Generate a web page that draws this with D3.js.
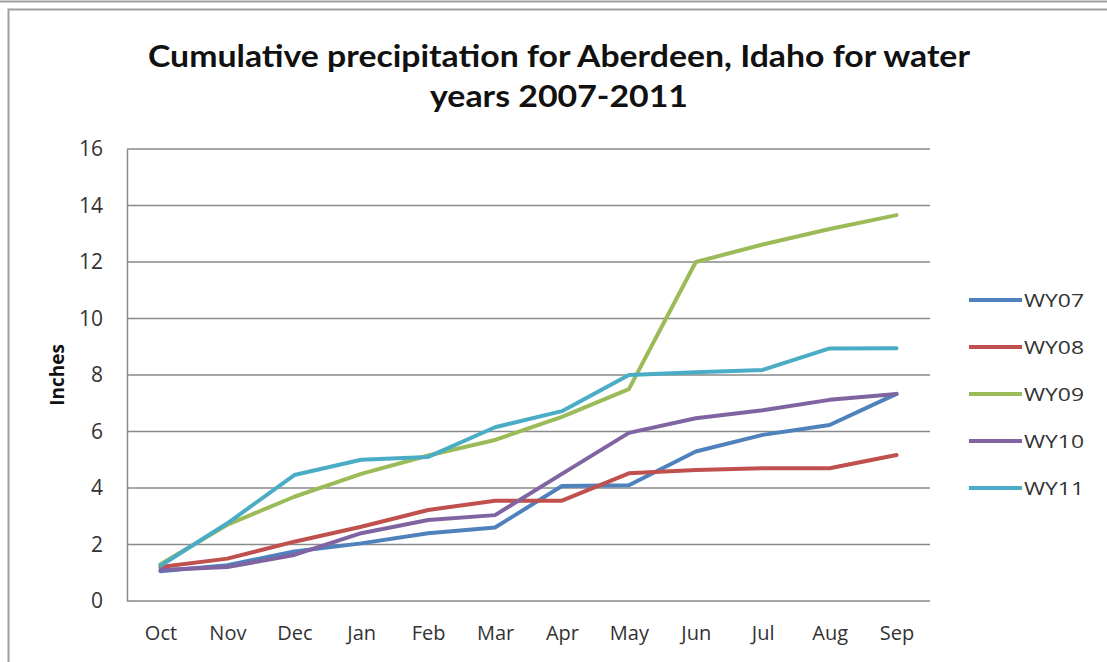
<!DOCTYPE html>
<html>
<head>
<meta charset="utf-8">
<script src="https://cdn.jsdelivr.net/npm/d3@7"></script>
<style>
  html, body { margin: 0; padding: 0; background: #fff; }
  svg { display: block; }
</style>
</head>
<body>
<svg id="chart" width="1107" height="662"></svg>
<script>
// Month categories of the water year (Oct–Sep)
const months = ["Oct", "Nov", "Dec", "Jan", "Feb", "Mar", "Apr", "May", "Jun", "Jul", "Aug", "Sep"];

// Cumulative precipitation (inches) per water year
const wy07 = [1.05, 1.27, 1.75, 2.04, 2.4, 2.6, 4.07, 4.1, 5.29, 5.88, 6.23, 7.33];
const wy08 = [1.2, 1.5, 2.1, 2.63, 3.22, 3.55, 3.55, 4.52, 4.64, 4.7, 4.7, 5.17];
const wy09 = [1.3, 2.7, 3.69, 4.5, 5.15, 5.7, 6.52, 7.5, 12.0, 12.62, 13.17, 13.66];
const wy10 = [1.1, 1.2, 1.63, 2.4, 2.87, 3.04, 4.5, 5.95, 6.47, 6.75, 7.12, 7.33];
const wy11 = [1.25, 2.75, 4.46, 5.0, 5.1, 6.15, 6.72, 8.0, 8.1, 8.18, 8.94, 8.95];

const seriesNames = ["WY07", "WY08", "WY09", "WY10", "WY11"];
const seriesValues = [wy07, wy08, wy09, wy10, wy11];
const seriesColors = ["#4F81BD", "#C0504D", "#9BBB59", "#8064A2", "#4BACC6"];

const yTicks = [0, 2, 4, 6, 8, 10, 12, 14, 16];

const svg = d3.select("#chart");
const W = 1107, H = 662;

// Outer frame lines
svg.append("line").attr("x1", 0).attr("x2", W).attr("y1", 1.5).attr("y2", 1.5)
  .attr("stroke", "#a0a0a0").attr("stroke-width", 2);
svg.append("rect").attr("x", 8.5).attr("y", 9.5).attr("width", W + 20).attr("height", H + 20)
  .attr("fill", "#fff").attr("stroke", "#a0a0a0").attr("stroke-width", 2);

const plot = { left: 127, right: 930, top: 149, bottom: 601 };

const x = d3.scalePoint().domain(months).range([plot.left, plot.right]).padding(0.5);
const y = d3.scaleLinear().domain([0, 16]).range([plot.bottom, plot.top]);

const font = "'Open Sans', 'DejaVu Sans', sans-serif";

// Horizontal gridlines
svg.append("g").selectAll("line").data(yTicks.filter(d => d > 0)).join("line")
  .attr("x1", plot.left).attr("x2", plot.right)
  .attr("y1", d => y(d)).attr("y2", d => y(d))
  .attr("stroke", "#8a8a8a").attr("stroke-width", 1.5);

// Y axis
const yAxis = svg.append("g").attr("transform", `translate(${plot.left},0)`)
  .call(d3.axisLeft(y).tickValues(yTicks).tickSize(0).tickPadding(24));
yAxis.select(".domain").attr("stroke", "#8a8a8a").attr("stroke-width", 1.5);
yAxis.selectAll("text").attr("font-family", font).attr("font-size", 21).attr("fill", "#333");

// X axis
const xAxis = svg.append("g").attr("transform", `translate(0,${plot.bottom})`)
  .call(d3.axisBottom(x).tickSize(0).tickPadding(25));
xAxis.select(".domain").attr("stroke", "#8a8a8a").attr("stroke-width", 1.5)
  .attr("d", `M${plot.left},0H${plot.right}`);
xAxis.selectAll("text").attr("font-family", font).attr("font-size", 20).attr("fill", "#333");

// Y axis title
svg.append("text")
  .attr("transform", `translate(64,${(plot.top + plot.bottom) / 2}) rotate(-90)`)
  .attr("text-anchor", "middle")
  .attr("font-family", font).attr("font-weight", "bold").attr("font-size", 19)
  .attr("fill", "#111").text("Inches");

// Chart title (two lines)
const titleFont = "Lato, 'Open Sans', sans-serif";
svg.append("text").attr("x", 559).attr("y", 67).attr("text-anchor", "middle")
  .attr("font-family", titleFont).attr("font-weight", "bold").attr("font-size", 30)
  .attr("fill", "#111").attr("textLength", 822).attr("lengthAdjust", "spacingAndGlyphs")
  .text("Cumulative precipitation for Aberdeen, Idaho for water");
svg.append("text").attr("x", 559).attr("y", 107).attr("text-anchor", "middle")
  .attr("font-family", titleFont).attr("font-weight", "bold").attr("font-size", 30)
  .attr("fill", "#111").attr("textLength", 258).attr("lengthAdjust", "spacingAndGlyphs")
  .text("years 2007-2011");

// Series lines
const line = d3.line().x((d, i) => x(months[i])).y(d => y(d));
svg.append("g").selectAll("path").data(seriesValues).join("path")
  .attr("d", d => line(d))
  .attr("fill", "none")
  .attr("stroke", (d, i) => seriesColors[i])
  .attr("stroke-width", 4)
  .attr("stroke-linejoin", "round")
  .attr("stroke-linecap", "round");

// Legend
const legend = svg.append("g");
const legendY = d3.scalePoint().domain(seriesNames).range([300, 488]);
legend.selectAll("line").data(seriesNames).join("line")
  .attr("x1", 969).attr("x2", 1022)
  .attr("y1", d => legendY(d)).attr("y2", d => legendY(d))
  .attr("stroke", (d, i) => seriesColors[i]).attr("stroke-width", 4);
legend.selectAll("text").data(seriesNames).join("text")
  .attr("x", 1024).attr("y", d => legendY(d) + 7)
  .attr("font-family", font).attr("font-size", 19).attr("fill", "#333")
  .attr("textLength", 60).attr("lengthAdjust", "spacingAndGlyphs")
  .text(d => d);
</script>
</body>
</html>
